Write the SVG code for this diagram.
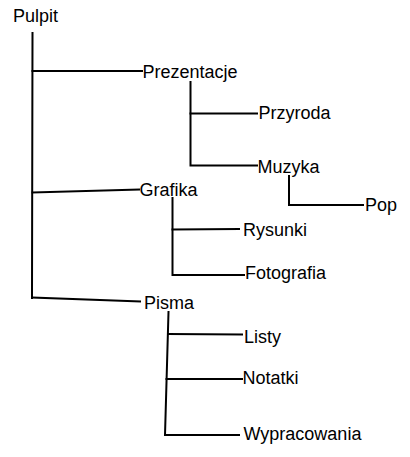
<svg xmlns="http://www.w3.org/2000/svg" width="410" height="457" viewBox="0 0 410 457">
<style>
text{font-family:"Liberation Sans",Arial,sans-serif;font-size:18px;fill:#000}
.c{fill:none;stroke:#000;stroke-width:2;stroke-linecap:square;stroke-linejoin:miter}
</style>
<rect width="410" height="457" fill="#fff"/>
<g id="connectors">
<path class="c" d="M32.5,33 L32,298"/>
<path class="c" d="M32.5,71 L142,71"/>
<path class="c" d="M32.5,192.5 L139,189.5"/>
<path class="c" d="M32,297.5 L140,301.5"/>
<path class="c" d="M190.5,82 L190.5,165.5 L257,165.5"/>
<path class="c" d="M190.5,113.5 L257,113.5"/>
<path class="c" d="M289,176 L289,205 L363,205"/>
<path class="c" d="M172.5,198 L172.5,275 L244,275"/>
<path class="c" d="M172.5,229.5 L239,229"/>
<path class="c" d="M168.5,312 L165,435 L239,435"/>
<path class="c" d="M168,334 L242,334.5"/>
<path class="c" d="M166.5,379 L242,379"/>
</g>
<g id="node-pulpit"><text x="13" y="22">Pulpit</text></g>
<g id="node-prezentacje"><text x="142.5" y="78">Prezentacje</text></g>
<g id="node-przyroda"><text x="258.5" y="118.5">Przyroda</text></g>
<g id="node-muzyka"><text x="257.5" y="172.5">Muzyka</text></g>
<g id="node-pop"><text x="365" y="210.5">Pop</text></g>
<g id="node-grafika"><text x="139.5" y="196">Grafika</text></g>
<g id="node-rysunki"><text x="243" y="235.5">Rysunki</text></g>
<g id="node-fotografia"><text x="245" y="279">Fotografia</text></g>
<g id="node-pisma"><text x="144" y="308.5">Pisma</text></g>
<g id="node-listy"><text x="244" y="343">Listy</text></g>
<g id="node-notatki"><text x="242.5" y="384">Notatki</text></g>
<g id="node-wypracowania"><text x="243.5" y="440">Wypracowania</text></g>
</svg>
